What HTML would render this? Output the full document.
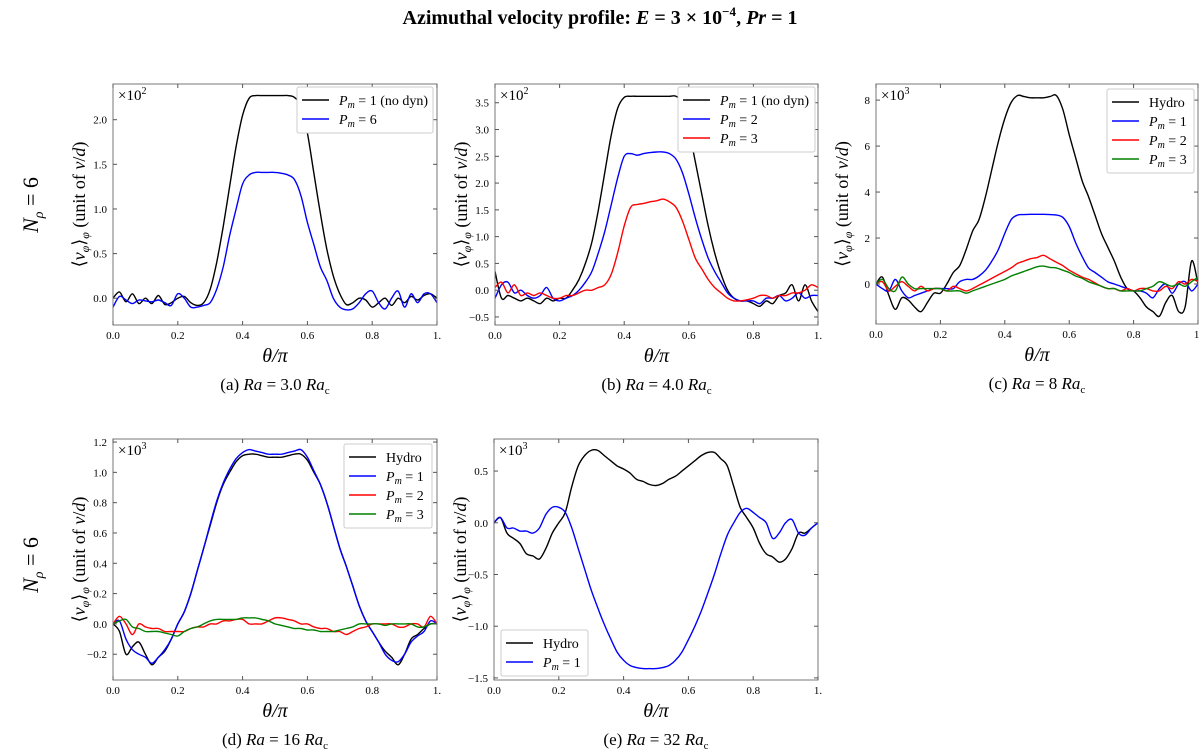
<!DOCTYPE html>
<html><head><meta charset="utf-8"><style>
body{margin:0;background:#fff}
svg{display:block;font-family:"Liberation Serif",serif}
</style></head><body>
<svg id="fig" width="1200" height="750" viewBox="0 0 1200 750">
<text x="600" y="24" text-anchor="middle" font-size="20" font-weight="bold">Azimuthal velocity profile: <tspan font-style="italic">E</tspan> = 3 × 10<tspan dy="-8" font-size="13">−4</tspan><tspan dy="8">,  </tspan><tspan font-style="italic">Pr</tspan> = 1</text>
<text transform="translate(38,205) rotate(-90)" text-anchor="middle" font-size="22"><tspan font-style="italic">N</tspan><tspan font-size="14" dy="5" font-style="italic">ρ</tspan><tspan dy="-5"> = 6</tspan></text>
<text transform="translate(38,565) rotate(-90)" text-anchor="middle" font-size="22"><tspan font-style="italic">N</tspan><tspan font-size="14" dy="5" font-style="italic">ρ</tspan><tspan dy="-5"> = 6</tspan></text>
</svg>
<script>
const xs=[0,.02,.04,.06,.08,.1,.12,.14,.16,.18,.2,.22,.24,.26,.28,.3,.32,.34,.36,.38,.4,.42,.44,.46,.48,.5,.52,.54,.56,.58,.6,.62,.64,.66,.68,.7,.72,.74,.76,.78,.8,.82,.84,.86,.88,.9,.92,.94,.96,.98,1];
const xTicks=[0,.2,.4,.6,.8,1];
const xTickLabels=["0.0","0.2","0.4","0.6","0.8","1."];
// panel a
const aBlack=[0,.07,-.04,.05,-.06,0,-.06,.03,-.07,-.05,0,.02,-.05,-.08,-.05,.1,.4,.8,1.25,1.7,2.05,2.24,2.27,2.27,2.27,2.27,2.27,2.27,2.25,2.15,1.85,1.4,.95,.55,.25,.05,-.07,-.05,0,-.02,-.1,-.05,0,-.08,0,-.05,.02,-.02,.03,.05,0];
const aBlue=[-.1,.02,-.02,-.06,-.02,-.03,-.04,-.02,-.05,-.08,.05,0,-.1,-.1,-.08,-.05,.1,.35,.7,1.0,1.28,1.38,1.41,1.41,1.41,1.41,1.4,1.38,1.33,1.15,.85,.6,.35,.2,0,-.1,-.13,-.12,-.05,.05,.08,-.05,-.12,0,.08,-.1,.05,-.05,.05,.05,-.05];
const aYTicks=[0,.5,1,1.5,2];
const aYLabels=["0.0","0.5","1.0","1.5","2.0"];
// panel b
const bBlack=[.35,-.15,-.1,-.15,-.2,-.15,-.2,-.25,-.15,-.2,-.15,-.15,0,.2,.5,.9,1.5,2.2,2.9,3.4,3.6,3.62,3.62,3.62,3.62,3.62,3.62,3.62,3.62,3.5,3.0,2.4,1.8,1.2,.7,.3,0,-.15,-.2,-.2,-.25,-.3,-.2,-.25,-.1,-.05,.1,-.2,.1,-.2,-.4];
const bBlue=[-.15,.1,.15,-.05,0,-.1,-.15,-.1,.05,-.15,-.2,-.15,-.1,0,.15,.35,.7,1.1,1.6,2.1,2.5,2.55,2.52,2.55,2.57,2.58,2.58,2.55,2.45,2.2,1.8,1.35,.95,.6,.35,.15,-.05,-.15,-.2,-.2,-.2,-.25,-.15,-.15,-.1,-.2,-.15,-.05,-.15,-.1,-.1];
const bRed=[.05,.15,-.05,.1,-.1,-.05,-.1,-.05,-.1,-.15,-.15,-.1,-.1,-.05,0,0,.05,.1,.3,.7,1.2,1.55,1.6,1.62,1.65,1.67,1.7,1.65,1.55,1.3,.95,.6,.4,.2,.05,-.05,-.15,-.2,-.2,-.18,-.15,-.1,-.1,-.15,-.1,-.1,-.05,-.05,0,.1,.05];
const bYTicks=[-.5,0,.5,1,1.5,2,2.5,3,3.5];
const bYLabels=["−0.5","0.0","0.5","1.0","1.5","2.0","2.5","3.0","3.5"];
// panel c
const cBlack=[0,.3,-.5,-1.1,-.6,-.7,-1.0,-1.2,-.8,-.4,-.4,0,.5,.8,1.5,2.3,2.8,3.8,5.0,6.2,7.2,7.9,8.2,8.15,8.1,8.1,8.1,8.15,8.2,7.6,6.5,5.5,4.5,3.8,3.0,2.2,1.6,1.0,.3,-.2,-.3,-.6,-1.0,-1.2,-1.4,-.8,-.5,-1.2,-1.0,1.0,0];
const cBlue=[0,-.2,-.3,.2,-.3,-.6,-.5,-.4,-.3,-.2,-.2,-.2,-.2,.1,.2,.2,.35,.6,1.0,1.5,2.2,2.8,3.0,3.02,3.03,3.03,3.03,3.02,3.0,2.9,2.5,1.8,1.2,.7,.5,.3,.1,0,-.1,-.2,-.3,-.3,-.4,-.6,-.2,0,-.4,0,.1,-.3,0];
const cRed=[0,.1,-.3,-.1,.1,-.1,-.3,-.1,-.3,-.2,-.2,-.3,-.1,-.2,-.3,-.2,-.05,.1,.25,.4,.55,.7,.9,1.0,1.1,1.15,1.25,1.1,.95,.8,.6,.45,.3,.2,.05,-.1,-.2,-.2,-.3,-.2,-.3,-.2,-.2,-.3,-.3,-.1,-.2,.1,0,.2,.1];
const cGreen=[0,.2,-.2,-.3,.3,0,-.2,-.2,-.2,-.2,-.2,-.3,-.3,-.3,-.4,-.3,-.2,-.1,0,.1,.2,.35,.45,.55,.65,.75,.78,.72,.7,.6,.5,.35,.25,.1,0,-.1,-.2,-.2,-.3,-.3,-.3,-.3,-.2,-.1,.1,0,-.1,0,-.1,.1,.3];
const cYTicks=[0,2,4,6,8];
const cYLabels=["0","2","4","6","8"];
// panel d
const dBlack=[0,-.05,-.2,-.15,-.12,-.2,-.27,-.22,-.18,-.1,0,.08,.2,.35,.5,.65,.8,.92,1.0,1.07,1.11,1.12,1.12,1.11,1.1,1.1,1.1,1.11,1.12,1.12,1.08,1.0,.92,.8,.65,.5,.38,.25,.12,.02,-.05,-.12,-.18,-.22,-.27,-.2,-.1,-.07,-.03,0,0];
const dBlue=[0,.02,-.1,-.17,-.2,-.22,-.26,-.22,-.17,-.1,0,.08,.2,.35,.5,.66,.81,.93,1.02,1.09,1.13,1.15,1.14,1.13,1.12,1.12,1.12,1.13,1.14,1.15,1.1,1.01,.92,.8,.65,.5,.38,.25,.12,.02,-.05,-.12,-.2,-.24,-.25,-.2,-.12,-.08,-.05,.02,0];
const dRed=[0,.05,0,-.07,0,-.02,-.03,-.03,-.05,-.05,-.05,-.05,-.03,-.02,-.02,0,0,.02,.02,.03,.03,0,0,0,.02,.04,.04,.03,.02,0,0,-.02,-.03,-.03,-.05,-.05,-.07,-.05,-.03,-.02,0,0,0,0,-.02,-.02,0,0,-.02,.05,0];
const dGreen=[0,.02,.03,-.02,-.03,-.05,-.05,-.05,-.06,-.07,-.08,-.05,-.03,-.02,0,.02,.03,.03,.03,.03,.04,.04,.04,.03,.02,0,-.01,-.02,-.03,-.03,-.04,-.04,-.05,-.05,-.05,-.04,-.03,-.02,0,0,0,0,-.01,0,0,0,0,-.02,-.02,0,0];
const dYTicks=[-.2,0,.2,.4,.6,.8,1,1.2];
const dYLabels=["−0.2","0.0","0.2","0.4","0.6","0.8","1.0","1.2"];
// panel e
const eBlack=[0,.05,-.1,-.15,-.2,-.3,-.32,-.35,-.25,-.1,0,.1,.35,.55,.65,.7,.7,.65,.6,.55,.52,.48,.42,.4,.37,.36,.38,.42,.45,.5,.55,.6,.65,.68,.68,.62,.55,.35,.15,.05,-.05,-.2,-.3,-.33,-.38,-.35,-.25,-.1,-.1,-.05,0];
const eBlue=[0,.05,-.05,-.05,-.08,-.08,-.1,-.05,.08,.15,.15,.1,-.05,-.25,-.45,-.65,-.82,-.98,-1.12,-1.25,-1.33,-1.38,-1.4,-1.41,-1.41,-1.41,-1.4,-1.38,-1.33,-1.25,-1.13,-1.0,-.85,-.68,-.5,-.3,-.12,0,.1,.14,.1,.05,0,-.15,-.1,0,.03,-.1,-.12,-.05,0];
const eYTicks=[-1.5,-1,-.5,0,.5];
const eYLabels=["−1.5","−1.0","−0.5","0.0","0.5"];

const NS="http://www.w3.org/2000/svg";
const svg=document.getElementById('fig');
function mk(tag,attrs,parent){const e=document.createElementNS(NS,tag);for(const k in attrs)e.setAttribute(k,attrs[k]);(parent||svg).appendChild(e);return e;}
const COL={k:"#000",b:"#0000ff",r:"#ff0000",g:"#008000"};
function smooth(pts){
  let d='M'+pts[0][0].toFixed(1)+','+pts[0][1].toFixed(1);
  for(let i=0;i<pts.length-1;i++){
    const p0=pts[Math.max(0,i-1)],p1=pts[i],p2=pts[i+1],p3=pts[Math.min(pts.length-1,i+2)];
    const c1x=p1[0]+(p2[0]-p0[0])/6,c1y=p1[1]+(p2[1]-p0[1])/6;
    const c2x=p2[0]-(p3[0]-p1[0])/6,c2y=p2[1]-(p3[1]-p1[1])/6;
    d+=' C'+c1x.toFixed(1)+','+c1y.toFixed(1)+' '+c2x.toFixed(1)+','+c2y.toFixed(1)+' '+p2[0].toFixed(1)+','+p2[1].toFixed(1);
  }
  return d;
}
function legendLabel(t,kind){
  if(kind==="hydro")t.textContent="Hydro";
  else{t.innerHTML='<tspan font-style="italic">P</tspan><tspan font-style="italic" font-size="10" dy="3">m</tspan><tspan dy="-3"> = '+kind+'</tspan>';}
}
function panel(id,L,T,R,B,ymin,ymax,yT,yL,mult,series,leg,caption){
  const g=mk('g',{});
  
  
  const sx=v=>L+(R-L)*v;
  const sy=v=>B-(B-T)*(v-ymin)/(ymax-ymin);
  const cid='clip'+id;
  const cp=mk('clipPath',{id:cid},g);mk('rect',{x:L,y:T,width:R-L,height:B-T},cp);
  series.forEach(s=>{
    const p=mk('path',{d:smooth(xs.map((x,i)=>[sx(x),sy(s.v[i])])),fill:'none',stroke:COL[s.c],'stroke-width':1.4,'clip-path':'url(#'+cid+')','stroke-linejoin':'round'},g);
    
    
  });
  const fr=mk('rect',{x:L,y:T,width:R-L,height:B-T,fill:'none',stroke:'#777','stroke-width':1},g);
  
  
  xTicks.forEach((v,i)=>{
    const x=sx(v);
    mk('line',{x1:x,x2:x,y1:B,y2:B-4,stroke:'#555'},g);
    mk('line',{x1:x,x2:x,y1:T,y2:T+4,stroke:'#555'},g);
    const t=mk('text',{x:x,y:B+14,'text-anchor':'middle','font-size':11},g);t.textContent=xTickLabels[i];
    
    
  });
  yT.forEach((v,i)=>{
    const y=sy(v);
    mk('line',{x1:L,x2:L+4,y1:y,y2:y,stroke:'#555'},g);
    mk('line',{x1:R,x2:R-4,y1:y,y2:y,stroke:'#555'},g);
    const t=mk('text',{x:L-6,y:y+4,'text-anchor':'end','font-size':11},g);t.textContent=yL[i];
    
    
  });
  const m=mk('text',{x:L+5,y:T+16,'font-size':15},g);m.innerHTML='×10<tspan dy="-6" font-size="10">'+mult+'</tspan>';
  
  
  const xl=mk('text',{x:(L+R)/2,y:B+37,'text-anchor':'middle','font-size':20,'font-style':'italic'},g);xl.textContent='θ/π';
  
  
  const yl=mk('text',{transform:'translate('+(L-28)+','+((T+B)/2)+') rotate(-90)','text-anchor':'middle','font-size':18},g);
  yl.innerHTML='⟨<tspan font-style="italic">v</tspan><tspan font-size="12" dy="4" font-style="italic">φ</tspan><tspan dy="-4">⟩</tspan><tspan font-size="12" dy="4" font-style="italic">φ</tspan><tspan dy="-4"> (unit of </tspan><tspan font-style="italic">ν</tspan>/<tspan font-style="italic">d</tspan>)';
  
  
  const cap=mk('text',{x:(L+R)/2,y:B+65,'text-anchor':'middle','font-size':17},g);
  cap.innerHTML=caption;
  
  
  const lg=mk('g',{},g);
  
  
  mk('rect',{x:leg.x,y:leg.y,width:leg.w,height:8+leg.items.length*19,fill:'#fff',stroke:'#ccc',rx:2},lg);
  leg.items.forEach((it,i)=>{
    const y=leg.y+13+i*19;
    mk('line',{x1:leg.x+5,x2:leg.x+32,y1:y,y2:y,stroke:COL[it.c],'stroke-width':1.5},lg);
    const t=mk('text',{x:leg.x+42,y:y+5,'font-size':14},lg);
    legendLabel(t,it.k);
    
    
  });
}
function cap(l,v){return '('+l+') <tspan font-style="italic">Ra</tspan> = '+v+' <tspan font-style="italic">Ra</tspan><tspan font-size="11" dy="4">c</tspan>';}
panel('a',113,84,437,325,-0.30,2.40,aYTicks,aYLabels,'2',
  [{n:'pm1',c:'k',v:aBlack},{n:'pm6',c:'b',v:aBlue}],
  {x:297,y:87,w:136,items:[{c:'k',k:'1 (no dyn)'},{c:'b',k:'6'}]},cap('a','3.0'));
panel('b',495,84,818,325,-0.65,3.85,bYTicks,bYLabels,'2',
  [{n:'pm1',c:'k',v:bBlack},{n:'pm2',c:'b',v:bBlue},{n:'pm3',c:'r',v:bRed}],
  {x:678,y:87,w:137,items:[{c:'k',k:'1 (no dyn)'},{c:'b',k:'2'},{c:'r',k:'3'}]},cap('b','4.0'));
panel('c',876,84,1198,324,-1.74,8.7,cYTicks,cYLabels,'3',
  [{n:'hydro',c:'k',v:cBlack},{n:'pm1',c:'b',v:cBlue},{n:'pm2',c:'r',v:cRed},{n:'pm3',c:'g',v:cGreen}],
  {x:1107,y:89,w:87,items:[{c:'k',k:'hydro'},{c:'b',k:'1'},{c:'r',k:'2'},{c:'g',k:'3'}]},cap('c','8'));
panel('d',113,439,437,680,-0.37,1.22,dYTicks,dYLabels,'3',
  [{n:'hydro',c:'k',v:dBlack},{n:'pm1',c:'b',v:dBlue},{n:'pm2',c:'r',v:dRed},{n:'pm3',c:'g',v:dGreen}],
  {x:344,y:444,w:88,items:[{c:'k',k:'hydro'},{c:'b',k:'1'},{c:'r',k:'2'},{c:'g',k:'3'}]},cap('d','16'));
panel('e',494,439,818,680,-1.52,0.81,eYTicks,eYLabels,'3',
  [{n:'hydro',c:'k',v:eBlack},{n:'pm1',c:'b',v:eBlue}],
  {x:501,y:630,w:87,items:[{c:'k',k:'hydro'},{c:'b',k:'1'}]},cap('e','32'));
</script>
</body></html>
